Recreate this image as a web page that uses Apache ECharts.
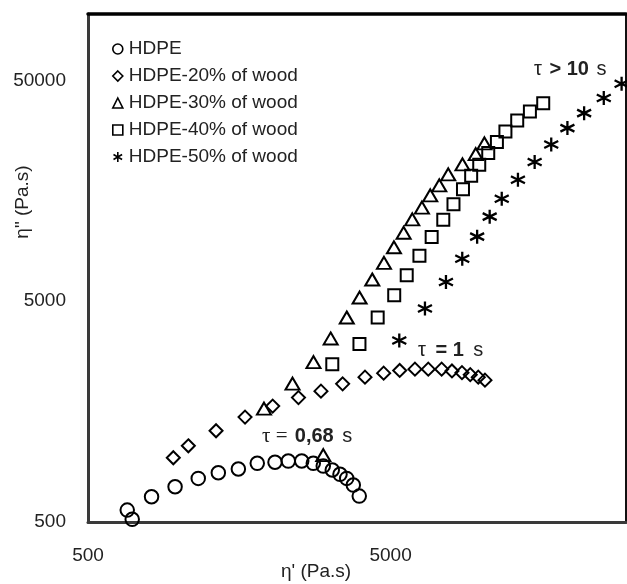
<!DOCTYPE html>
<html><head><meta charset="utf-8">
<script src="https://cdn.jsdelivr.net/npm/echarts@6/dist/echarts.min.js"></script>
<style>html,body{margin:0;padding:0;background:#fff}#c{width:627px;height:584px}</style>
</head><body><div id="c"></div>
<script>
// ---- data ----
const seriesNames = ['HDPE', 'HDPE-20% of wood', 'HDPE-30% of wood', 'HDPE-40% of wood', 'HDPE-50% of wood'];
const tickValues = [500, 5000, 50000];

const hdpeX = [674,700,811,970,1157,1348,1570,1813,2075,2296,2543,2777,2996,3209,3403,3581,3765,3940];
const hdpeY = [566,514,651,722,788,836,869,922,932,944,945,922,896,860,822,788,735,655];

const wood20X = [957,1073,1325,1652,2039,2481,2944,3472,4116,4744,5360,6020,6662,7376,7978,8610,9170,9747,10256];
const wood20Y = [977,1107,1295,1493,1675,1830,1957,2112,2265,2362,2429,2462,2462,2462,2417,2374,2325,2265,2195];

const wood30X = [1908,2371,2781,2996,3170,3583,3950,4350,4755,5131,5523,5898,6348,6763,7244,7755,8643,9560,10214];
const wood30Y = [1632,2117,2649,1005,3391,4219,5196,6270,7455,8775,10208,11750,13273,15085,16746,18780,20838,23206,25936];

const wood40X = [3209,3946,4533,5141,5654,6229,6836,7468,8071,8676,9234,9819,10515,11232,11984,13110,14438,15978];
const wood40Y = [2593,3201,4219,5324,6556,8033,9772,11688,13742,16097,18488,20731,23453,26288,29389,32961,36196,39467];

const wood50X = [5343,6496,7622,8628,9663,10631,11653,13182,14970,16983,19209,21813,25332,29013];
const wood50Y = [3321,4634,6115,7786,9808,12083,14573,17734,21344,25615,30422,35560,41654,48313];

// ---- chart ----
const FONT = 'Liberation Sans, Arial, sans-serif';
const zip = (xs, ys) => xs.map((x, i) => [x, ys[i]]);
const starPath = 'path://M5,0L5,10M0.7,2.5L9.3,7.5M0.7,7.5L9.3,2.5';
const symbols = ['circle', 'diamond', 'triangle', 'rect', starPath];
const sizes = [13.5, 13, [14, 12], 12, 14];
const datasets = [zip(hdpeX, hdpeY), zip(wood20X, wood20Y), zip(wood30X, wood30Y), zip(wood40X, wood40Y), zip(wood50X, wood50Y)];

const fmt = v => String(Math.round(v));

const chart = echarts.init(document.getElementById('c'), null, {renderer: 'canvas'});
chart.setOption({
  animation: false,
  backgroundColor: '#fff',
  grid: {left: 88, right: 1, top: 14, bottom: 62, show: true, borderColor: '#111', borderWidth: 2},
  xAxis: [{
    type: 'log', logBase: 10, min: 500, max: 30000,
    axisLine: {show: true, lineStyle: {color: '#3a3a3a', width: 3}},
    axisTick: {show: false}, splitLine: {show: false}, minorTick: {show: false},
    axisLabel: {customValues: tickValues, formatter: fmt, fontSize: 19, fontFamily: FONT, color: '#222', margin: 24}
  }, {
    type: 'log', logBase: 10, min: 500, max: 30000, position: 'top',
    axisLine: {show: true, lineStyle: {color: '#000', width: 3.5}},
    axisTick: {show: false}, splitLine: {show: false}, axisLabel: {show: false}
  }],
  yAxis: {
    type: 'log', logBase: 10, min: 500, max: 100000,
    axisLine: {show: true, lineStyle: {color: '#3a3a3a', width: 3}},
    axisTick: {show: false}, splitLine: {show: false}, minorTick: {show: false},
    axisLabel: {customValues: tickValues, formatter: fmt, fontSize: 19, fontFamily: FONT, color: '#222', margin: 22}
  },
  legend: {
    orient: 'vertical', left: 107, top: 34, itemWidth: 10, itemHeight: 10, itemGap: 7,
    data: seriesNames,
    textStyle: {fontSize: 19, fontFamily: FONT, color: '#222', lineHeight: 20, padding: [0, 0, 0, 1]},
    itemStyle: {borderWidth: 1.6}
  },
  series: seriesNames.map((name, i) => ({
    name, type: 'scatter', xAxisIndex: 0,
    symbol: symbols[i], symbolSize: sizes[i],
    itemStyle: {color: 'rgba(0,0,0,0)', borderColor: '#000', borderWidth: i === 4 ? 2.3 : 2, opacity: 1},
    emphasis: {disabled: true},
    data: datasets[i]
  })),
  graphic: [
    {type: 'text', x: 23, y: 202, rotation: Math.PI / 2,
     style: {text: 'η" (Pa.s)', font: '19px ' + FONT, fill: '#222', align: 'center', verticalAlign: 'middle'}},
    {type: 'text', x: 316, y: 572,
     style: {text: "η' (Pa.s)", font: '19px ' + FONT, fill: '#222', align: 'center', verticalAlign: 'middle'}},
    {type: 'text', x: 534, y: 69, style: {
      text: '{a|τ }{b|> 10}{a| s}', verticalAlign: 'middle',
      rich: {a: {font: '20px ' + FONT, fill: '#222'}, b: {font: 'bold 20px ' + FONT, fill: '#222', padding: [0, 2]}}}},
    {type: 'text', x: 418, y: 350, style: {
      text: '{a|τ }{b|= 1}{a| s}', verticalAlign: 'middle',
      rich: {a: {font: '20px ' + FONT, fill: '#222'}, b: {font: 'bold 20px ' + FONT, fill: '#222', padding: [0, 4]}}}},
    {type: 'text', x: 262, y: 436, style: {
      text: '{c|τ = }{b|0,68}{a| s}', verticalAlign: 'middle',
      rich: {a: {font: '20px ' + FONT, fill: '#222'}, b: {font: 'bold 20px ' + FONT, fill: '#222', padding: [0, 3, 0, 2]}, c: {font: '21px Liberation Serif, Times New Roman, serif', fill: '#222'}}}}
  ]
});
</script>
</body></html>
